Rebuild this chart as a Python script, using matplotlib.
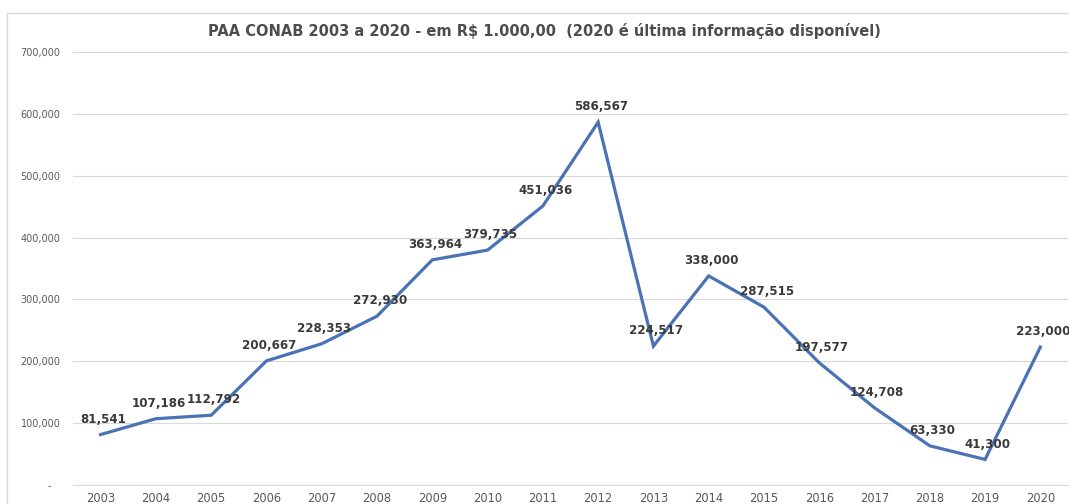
import matplotlib.pyplot as plt
from matplotlib.patches import Rectangle

# PAA CONAB values, R$ 1.000,00
years = ["2003", "2004", "2005", "2006", "2007", "2008", "2009", "2010", "2011",
         "2012", "2013", "2014", "2015", "2016", "2017", "2018", "2019", "2020"]
values = [81541, 107186, 112792, 200667, 228353, 272930, 363964, 379735, 451036,
          586567, 224517, 338000, 287515, 197577, 124708, 63330, 41300, 223000]
y_ticks = [0, 100000, 200000, 300000, 400000, 500000, 600000, 700000]
y_tick_labels = ["-   ", "100,000", "200,000", "300,000", "400,000", "500,000", "600,000", "700,000"]

W, H = 1069, 504
fig = plt.figure(figsize=(W / 100, H / 100), dpi=100)
fig.patch.set_facecolor("white")

# chart border (light gray frame like Excel)
fig.patches.append(Rectangle((7 / W, -0.1), 1.2, (H - 13) / H + 0.1, transform=fig.transFigure,
                             fill=False, edgecolor="#d9d9d9", linewidth=1.0))

left, right, top, bottom = 73, 1068, 52, 485
ax = fig.add_axes([left / W, (H - bottom) / H, (right - left) / W, (bottom - top) / H])

x = list(range(len(years)))
ax.plot(x, values, color="#4a72b5", linewidth=2.3, solid_joinstyle="miter")

for xi, v in zip(x, values):
    ax.annotate(f"{v:,}", (xi, v), xytext=(2, 11), textcoords="offset points",
                ha="center", va="center", fontsize=8.6, fontweight="bold", color="#3a3a3a")

ax.set_xlim(-0.5, len(years) - 0.5)
ax.set_ylim(0, 700000)
ax.set_xticks(x)
ax.set_xticklabels(years, fontsize=8.3, color="#595959")
ax.set_yticks(y_ticks)
ax.set_yticklabels(y_tick_labels, fontsize=7, color="#595959")
ax.tick_params(axis="both", length=0)
ax.tick_params(axis="x", pad=5)
ax.tick_params(axis="y", pad=9)

ax.grid(axis="y", color="#d9d9d9", linewidth=0.8)
ax.set_axisbelow(True)
for s in ["top", "right", "left"]:
    ax.spines[s].set_visible(False)
ax.spines["bottom"].set_color("#d9d9d9")
ax.spines["bottom"].set_linewidth(0.8)

fig.text(544 / W, 1 - 31 / H,
         "PAA CONAB 2003 a 2020 - em R$ 1.000,00  (2020 é última informação disponível)",
         ha="center", va="center", fontsize=10.5, fontweight="bold", color="#4d4d4d")

fig.savefig("out.png", dpi=100)
